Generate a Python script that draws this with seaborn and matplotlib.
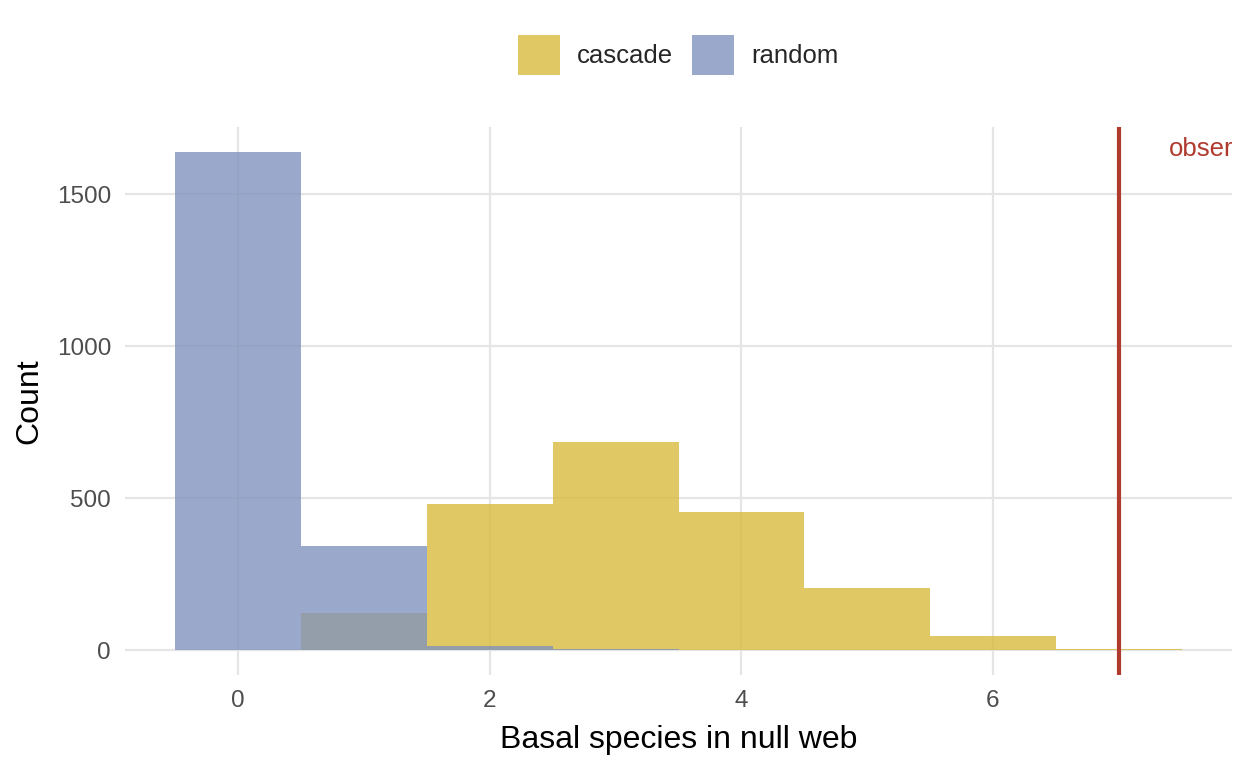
import numpy as np
import pandas as pd
import matplotlib
matplotlib.use("Agg")
import matplotlib.pyplot as plt
import seaborn as sns
from matplotlib.patches import Patch

basal = [0, 1, 2, 3, 4, 5, 6, 7]
random_counts = [1639, 344, 13, 3, 0, 0, 0, 0]
cascade_counts = [0, 121, 482, 685, 456, 203, 46, 4]
observed = 7
series_labels = ["cascade", "random"]
colors = {"cascade": "#D9BB3E", "random": "#8194BE"}

df = pd.concat([
    pd.DataFrame({"basal": basal, "count": cascade_counts, "type": "cascade"}),
    pd.DataFrame({"basal": basal, "count": random_counts, "type": "random"}),
])

sns.set_theme(style="whitegrid")
plt.rcParams['font.family'] = ['Liberation Sans', 'DejaVu Sans']

fig = plt.figure(figsize=(12.48, 7.68), dpi=100)
ax = fig.add_axes([125/1248, (768-675)/768, (1232-125)/1248, (675-127)/768])

for lab in ["cascade", "random"]:
    sub = df[df["type"] == lab]
    sns.histplot(data=sub, x="basal", weights="count", discrete=True,
                 color=colors[lab], alpha=0.8, linewidth=0, edgecolor="none",
                 ax=ax, zorder=2)

ax.axvline(observed, color="#B03A2E", linewidth=3, zorder=3)
ax.text(observed + 0.40, 1650, "observed", color="#B03A2E", fontsize=18.5,
        ha="left", va="center", clip_on=True, zorder=4)

ax.set_xlim(-0.9, 7.9)
ax.set_ylim(-82, 1722)
ax.set_xticks([0, 2, 4, 6])
ax.set_yticks([0, 500, 1000, 1500])
ax.tick_params(axis="both", length=0, labelsize=17.5, labelcolor="#4D4D4D")
ax.tick_params(axis="x", pad=11)
ax.tick_params(axis="y", pad=10)
ax.grid(True, color="#E5E5E5", linewidth=1.6, zorder=0)
ax.set_axisbelow(True)
for s in ax.spines.values():
    s.set_visible(False)
ax.set_facecolor("white")
ax.set_xlabel("Basal species in null web", fontsize=23, color="black", labelpad=9.5)
ax.set_ylabel("Count", fontsize=23, color="black", labelpad=9)

handles = [Patch(facecolor=colors[l], alpha=0.8, edgecolor="none") for l in series_labels]
fig.legend(handles, series_labels, loc="center", bbox_to_anchor=(678.5/1248, 1 - 55/768),
           ncol=2, frameon=False, fontsize=18.5, handlelength=1.63, handleheight=2.0,
           handletextpad=0.66, columnspacing=0.74)

fig.savefig("out.png", dpi=100)
